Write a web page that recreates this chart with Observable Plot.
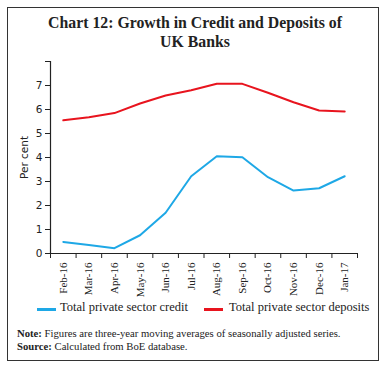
<!DOCTYPE html>
<html><head><meta charset="utf-8">
<script src="https://cdn.jsdelivr.net/npm/d3@7"></script>
<script src="https://cdn.jsdelivr.net/npm/@observablehq/plot@0.6"></script>
<style>
body{margin:0;background:#fff;width:390px;height:368px;position:relative;overflow:hidden;font-family:"Liberation Serif","DejaVu Serif",serif;color:#222;}
#frame{position:absolute;left:7px;top:7px;width:372px;height:354px;border:1.2px solid #333;box-sizing:border-box;}
#title{position:absolute;left:0;top:13px;width:390px;text-align:center;font-weight:bold;font-size:15.8px;line-height:19px;color:#222;}
#chart{position:absolute;left:0;top:0;}
.leg{position:absolute;top:300px;font-size:12.5px;white-space:nowrap;}
.sw{position:absolute;top:308px;height:3px;width:19px;}
#note{position:absolute;left:17px;top:327px;font-size:10.7px;line-height:13px;white-space:nowrap;}
</style></head><body>
<div id="frame"></div>
<div id="title">Chart 12: Growth in Credit and Deposits of<br>UK Banks</div>
<div id="chart"></div>
<div class="sw" style="left:37px;background:#1ea8e6"></div>
<div class="leg" style="left:60px">Total private sector credit</div>
<div class="sw" style="left:204px;background:#e8141e"></div>
<div class="leg" style="left:229px">Total private sector deposits</div>
<div id="note"><b>Note:</b> Figures are three-year moving averages of seasonally adjusted series.<br><b>Source:</b> Calculated from BoE database.</div>
<script>
const months = ["Feb-16","Mar-16","Apr-16","May-16","Jun-16","Jul-16","Aug-16","Sep-16","Oct-16","Nov-16","Dec-16","Jan-17"];
const credit = [0.48,0.35,0.22,0.76,1.7,3.22,4.05,4.01,3.18,2.62,2.72,3.22];
const deposits = [5.55,5.68,5.85,6.25,6.58,6.8,7.07,7.07,6.7,6.3,5.96,5.92];
const yTicks = [0,1,2,3,4,5,6,7,8];

const rows = [];
months.forEach((m,i)=>{
  rows.push({i, v: credit[i], s: "Total private sector credit"});
  rows.push({i, v: deposits[i], s: "Total private sector deposits"});
});
const idx = months.map((_,i)=>i);
const bounds = months.map((_,i)=>i-0.5).concat([months.length-0.5]);

const plot = Plot.plot({
  width: 390, height: 300,
  marginLeft: 50, marginRight: 33, marginTop: 61, marginBottom: 47,
  style: {fontFamily: "Liberation Serif, serif", fontSize: "11px", color: "#222", background: "transparent"},
  x: {type: "linear", domain: [-0.5, months.length-0.5], label: null},
  y: {domain: [0, 8]},
  color: {domain: ["Total private sector credit","Total private sector deposits"], range: ["#1ea8e6","#e8141e"]},
  marks: [
    Plot.ruleY([0], {stroke: "#222", strokeWidth: 1.2}),
    Plot.ruleX([-0.5], {y1: 0, y2: 8, stroke: "#222", strokeWidth: 1.2}),
    Plot.axisY({ticks: yTicks, tickSize: 5, tickPadding: 3, tickFormat: d => d === 8 ? "" : d,
      fontFamily: "DejaVu Sans, sans-serif", fontSize: 10.5,
      label: "Per cent", labelAnchor: "center", labelArrow: "none", labelOffset: 30}),
    Plot.axisX({ticks: bounds, tickSize: 5, tickFormat: () => "", label: null}),
    Plot.axisX({ticks: idx, tickSize: 0, tickPadding: 9, tickRotate: -90, tickFormat: i => months[i], fontSize: 11, label: null}),
    Plot.line(rows, {x: "i", y: "v", z: "s", stroke: "s", strokeWidth: 2})
  ]
});
document.getElementById("chart").appendChild(plot);
</script>
</body></html>
